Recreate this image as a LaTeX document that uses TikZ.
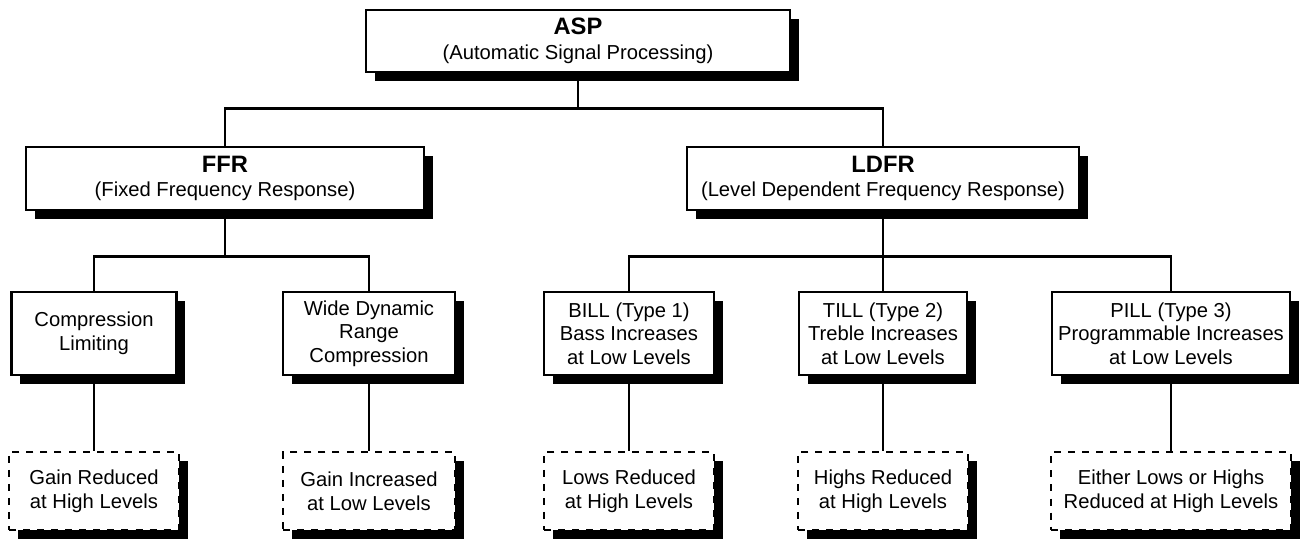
\documentclass[tikz,border=0pt]{standalone}
\usepackage{fontspec}
\setmainfont{Liberation Sans}
\usetikzlibrary{shadows}
\newcommand{\boxhead}[1]{{\fontsize{13.5}{16}\selectfont\bfseries #1}}

\tikzset{
  box/.style={draw, line width=1.3pt, fill=white, align=center, inner sep=2pt,
    drop shadow={shadow xshift=5pt, shadow yshift=-5pt, fill=black, draw=none, opacity=1}},
  headbox/.style={box, minimum height=1.26cm, font=\fontsize{11.5}{13}\selectfont},
  typebox/.style={box, minimum height=1.66cm, font=\fontsize{11.5}{13.5}\selectfont},
  effectbox/.style={typebox, dash pattern=on 4pt off 4pt, minimum height=1.56cm},
  link/.style={line width=1.6pt}
}

\begin{document}
\begin{tikzpicture}[x=1cm, y=1cm]
  \useasboundingbox (0,0) rectangle (26.16,10.82);

  %% --- Top level ---
  \node[headbox, minimum width=8.48cm, minimum height=1.24cm] (asp) at (11.56, 10.0)
    {\boxhead{ASP}\\[1pt](Automatic Signal Processing)};

  %% --- Frequency response classes ---
  \node[headbox, minimum width=7.96cm] (ffr) at (4.50, 7.25)
    {\boxhead{FFR}\\[1pt](Fixed Frequency Response)};
  \node[headbox, minimum width=7.84cm] (ldfr) at (17.66, 7.25)
    {\boxhead{LDFR}\\[1pt](Level Dependent Frequency Response)};

  %% --- Processing types ---
  \node[typebox, minimum width=3.30cm] (comp) at (1.88, 4.15)
    {Compression\\Limiting};
  \node[typebox, minimum width=3.44cm] (wdrc) at (7.38, 4.15)
    {Wide Dynamic\\Range\\Compression};
  \node[typebox, minimum width=3.40cm] (bill) at (12.58, 4.15)
    {BILL (Type 1)\\Bass Increases\\at Low Levels};
  \node[typebox, minimum width=3.36cm] (till) at (17.66, 4.15)
    {TILL (Type 2)\\Treble Increases\\at Low Levels};
  \node[typebox, minimum width=4.76cm] (pill) at (23.42, 4.15)
    {PILL (Type 3)\\Programmable Increases\\at Low Levels};

  %% --- Resulting effects (dashed) ---
  \node[effectbox, minimum width=3.40cm] (gainred) at (1.88, 1.0)
    {Gain Reduced\\at High Levels};
  \node[effectbox, minimum width=3.44cm] (gaininc) at (7.38, 1.0)
    {Gain Increased\\at Low Levels};
  \node[effectbox, minimum width=3.40cm] (lowsred) at (12.58, 1.0)
    {Lows Reduced\\at High Levels};
  \node[effectbox, minimum width=3.40cm] (highsred) at (17.66, 1.0)
    {Highs Reduced\\at High Levels};
  \node[effectbox, minimum width=4.80cm] (eitherred) at (23.42, 1.0)
    {Either Lows or Highs\\Reduced at High Levels};

  %% --- Tree connectors ---
  \draw[link] (asp.south) -- ++(0,-0.7) coordinate (aspjoin);
  \draw[link] (ffr.north) |- (aspjoin) -| (ldfr.north);

  \draw[link] (ffr.south) -- ++(0,-0.9) coordinate (ffrjoin);
  \draw[link] (comp.north) |- (ffrjoin) -| (wdrc.north);

  \draw[link] (ldfr.south) -- ++(0,-0.9) coordinate (ldfrjoin);
  \draw[link] (bill.north) |- (ldfrjoin) -| (pill.north);
  \draw[link] (ldfrjoin) -- (till.north);

  \draw[link] (comp.south) -- (gainred.north);
  \draw[link] (wdrc.south) -- (gaininc.north);
  \draw[link] (bill.south) -- (lowsred.north);
  \draw[link] (till.south) -- (highsred.north);
  \draw[link] (pill.south) -- (eitherred.north);
\end{tikzpicture}
\end{document}
